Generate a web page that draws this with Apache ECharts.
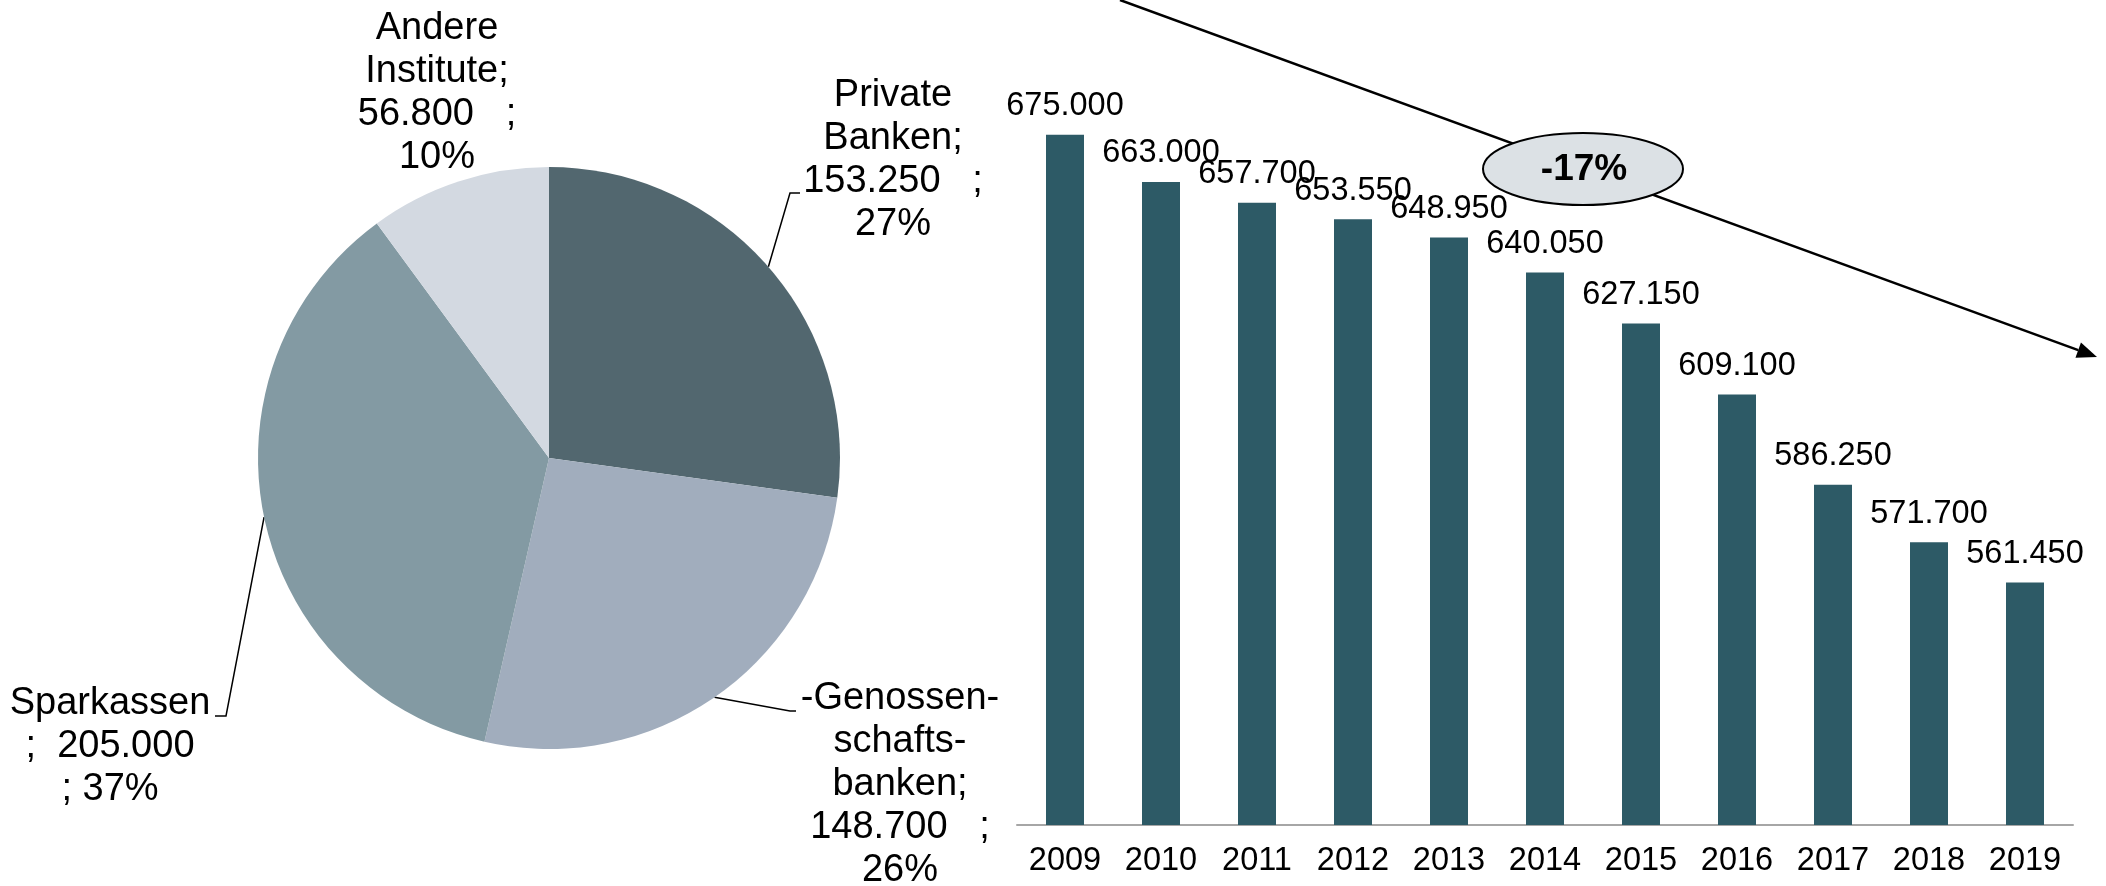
<!DOCTYPE html>
<html>
<head>
<meta charset="utf-8">
<script src="https://cdn.jsdelivr.net/npm/echarts@6/dist/echarts.min.js"></script>
<style>
html,body{margin:0;padding:0;background:#fff;}
#c{width:2106px;height:886px;}
</style>
</head>
<body>
<div id="c"></div>
<script>
// ---- data ----
var years = ['2009','2010','2011','2012','2013','2014','2015','2016','2017','2018','2019'];
var institutes = [675000, 663000, 657700, 653550, 648950, 640050, 627150, 609100, 586250, 571700, 561450];

var pieNames = ['Private Banken', 'Genossenschaftsbanken', 'Sparkassen', 'Andere Institute'];
var pieNameLines = ['Private\nBanken', '-Genossen-\nschafts-\nbanken', 'Sparkassen', 'Andere\nInstitute'];
var pieValues = [153250, 148700, 205000, 56800];
var piePercents = [27, 26, 37, 10];
var pieTemplates = ['{n};\n{v}   ;\n{p}%', '{n};\n{v}   ;\n{p}%', '{n}\n;  {v}\n; {p}%', '{n};\n{v}   ;\n{p}%'];
var changeLabel = '-17%';

// ---- styles / layout ----
var pieColors = ['#52676f', '#a1adbd', '#839aa3', '#d3d9e1'];
var barColor = '#2d5a66';
var FONT = '"Liberation Sans", Arial, Helvetica, sans-serif';
var pieLabelPos = [[893, 160], [900, 785], [110, 747], [437, 93]];
var pieLinePoints = [
  [[790, 193], [800, 193]],
  [[790, 711], [796, 711]],
  [[226, 716], [215, 716]],
  null
];

function fmt(v) { return String(v).replace(/\B(?=(\d{3})+(?!\d))/g, '.'); }

var pieData = pieNames.map(function (n, i) {
  return {
    name: n, value: pieValues[i],
    itemStyle: { color: pieColors[i] },
    labelLine: { show: pieLinePoints[i] !== null }
  };
});

// arrow geometry
var aStart = [1120, 0], aTip = [2097, 357];
var dx = aTip[0] - aStart[0], dy = aTip[1] - aStart[1];
var len = Math.sqrt(dx * dx + dy * dy);
var ux = dx / len, uy = dy / len;
var headL = 20, headW = 8;
var base = [aTip[0] - ux * headL, aTip[1] - uy * headL];
var head = [aTip, [base[0] - uy * headW, base[1] + ux * headW], [base[0] + uy * headW, base[1] - ux * headW]];

var chart = echarts.init(document.getElementById('c'), null, { renderer: 'canvas' });
chart.setOption({
  animation: false,
  backgroundColor: '#ffffff',
  textStyle: { fontFamily: FONT },
  grid: { left: 1017, right: 33, top: 36, bottom: 61 },
  xAxis: {
    type: 'category',
    data: years,
    axisLine: { show: true, lineStyle: { color: '#a6a6a6', width: 2 } },
    axisTick: { show: false },
    axisLabel: { color: '#000', fontSize: 32.5, fontFamily: FONT, margin: 20, interval: 0 }
  },
  yAxis: {
    type: 'value', min: 500000, max: 700000, interval: 50000,
    show: false, splitLine: { show: false }
  },
  series: [
    {
      type: 'bar',
      data: institutes,
      barWidth: 38,
      itemStyle: { color: barColor },
      label: {
        show: true, position: 'top', distance: 12,
        color: '#000', fontSize: 32.5, fontFamily: FONT,
        formatter: function (p) { return fmt(p.value); }
      },
      z: 2
    },
    {
      type: 'pie',
      center: [549, 458],
      radius: 291,
      startAngle: 90,
      clockwise: true,
      data: pieData,
      itemStyle: { borderWidth: 0 },
      label: {
        show: true, position: 'outside',
        color: '#000', fontSize: 38, lineHeight: 43, fontFamily: FONT, align: 'center',
        formatter: function (p) {
          var i = p.dataIndex;
          return pieTemplates[i].replace('{n}', pieNameLines[i]).replace('{v}', fmt(pieValues[i])).replace('{p}', piePercents[i]);
        }
      },
      labelLine: { show: true, length: 20, length2: 10, smooth: false, lineStyle: { color: '#000', width: 1.5 } },
      labelLayout: function (params) {
        var i = params.dataIndex;
        var out = { x: pieLabelPos[i][0], y: pieLabelPos[i][1], align: 'center', verticalAlign: 'middle' };
        if (pieLinePoints[i] && params.labelLinePoints && params.labelLinePoints.length) {
          var p0 = params.labelLinePoints[0];
          out.labelLinePoints = [[p0[0], p0[1]], pieLinePoints[i][0], pieLinePoints[i][1]];
        }
        return out;
      },
      emphasis: { disabled: true }
    }
  ],
  graphic: [
    { type: 'line', z: 10, shape: { x1: aStart[0], y1: aStart[1], x2: base[0], y2: base[1] }, style: { stroke: '#000', lineWidth: 2.5 } },
    { type: 'polygon', z: 10, shape: { points: head }, style: { fill: '#000' } },
    { type: 'ellipse', z: 11, shape: { cx: 1583, cy: 169, rx: 100, ry: 36 }, style: { fill: '#dce1e5', stroke: '#000', lineWidth: 2 } },
    { type: 'text', z: 12, x: 1584, y: 170, style: { text: changeLabel, font: 'bold 37px ' + FONT, fill: '#000', align: 'center', verticalAlign: 'middle' } }
  ]
});
</script>
</body>
</html>
